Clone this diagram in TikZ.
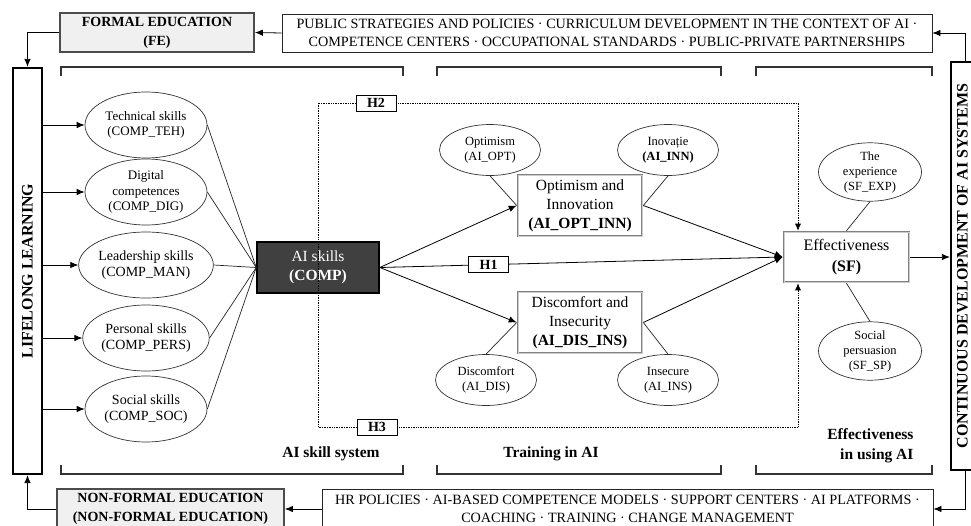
\documentclass[tikz,border=0pt]{standalone}
\usepackage{fontspec}
\setmainfont{Liberation Serif}
\usetikzlibrary{arrows.meta,shapes.geometric}
\begin{document}
\begin{tikzpicture}[x=1pt,y=-1pt,
  ell/.style={ellipse, draw=black!80, line width=0.7pt, inner sep=0pt, align=center},
  lell/.style={ell, minimum width=122pt, minimum height=66pt, font=\fontsize{13}{15.5}\selectfont},
  bigt/.style={font=\fontsize{14}{16}\selectfont},
  sell/.style={ell, minimum width=101pt, minimum height=51pt, font=\fontsize{12.5}{15.5}\selectfont},
  conn/.style={line width=0.7pt, draw=black!85},
  arr/.style={line width=0.8pt, -{Latex[length=8pt,width=6.5pt]}},
  dotline/.style={densely dotted, line width=0.7pt},
  dbox/.style={draw=black!50, line width=2.6pt, fill=white, align=center, inner sep=0pt,
    font=\fontsize{15.5}{19}\selectfont, postaction={draw=black!20, line width=0.7pt}},
  hbox/.style={draw, line width=0.8pt, fill=white, inner sep=0pt, minimum width=40pt, minimum height=16pt, font=\bfseries\fontsize{14}{16}\selectfont},
  edubox/.style={draw=black!70, line width=1.8pt, fill=black!6, align=center, inner sep=0pt, font=\bfseries\fontsize{14}{19}\selectfont},
  polbox/.style={draw=black!85, line width=0.9pt, fill=white, align=center, inner sep=0pt, font=\fontsize{14.2}{18}\selectfont},
  sidebox/.style={draw, line width=2.2pt, fill=white, inner sep=0pt},
  sidetext/.style={rotate=90, inner sep=0pt, font=\bfseries\fontsize{16}{18}\selectfont},
  brk/.style={line width=1.1pt, draw=black!80},
  lbl/.style={font=\bfseries\fontsize{15.5}{20}\selectfont, align=right}
]
\path[fill=white] (0,0) rectangle (971,525);
\useasboundingbox (0,0) rectangle (971,525);

% top and bottom boxes
\node[edubox, minimum width=194pt, minimum height=39pt] (fe) at (157,32.5) {FORMAL EDUCATION\\(FE)};
\node[polbox, minimum width=650pt, minimum height=38pt] (pt) at (607,33) {PUBLIC STRATEGIES AND POLICIES · CURRICULUM DEVELOPMENT IN THE CONTEXT OF AI ·\\COMPETENCE CENTERS · OCCUPATIONAL STANDARDS · PUBLIC-PRIVATE PARTNERSHIPS};
\node[edubox, minimum width=227pt, minimum height=40pt] (nf) at (170.5,509) {NON-FORMAL EDUCATION\\(NON-FORMAL EDUCATION)};
\node[polbox, minimum width=611pt, minimum height=40pt] (pb) at (627.5,509) {HR POLICIES · AI-BASED COMPETENCE MODELS · SUPPORT CENTERS · AI PLATFORMS ·\\COACHING · TRAINING · CHANGE MANAGEMENT};

% side boxes
\node[sidebox, minimum width=29pt, minimum height=406pt] (ll) at (27.5,271) {};
\node[sidetext] (llt) at (ll.center) {LIFELONG LEARNING};
\node[sidebox, minimum width=29pt, minimum height=408pt] (cd) at (965.5,266) {};
\node[sidetext] (cdt) at (962.5,266) {CONTINUOUS DEVELOPMENT OF AI SYSTEMS};

% brackets
\draw[brk] (61,76) -- (61,67) -- (403,67) -- (403,76);
\draw[brk] (437,76) -- (437,67) -- (721,67) -- (721,76);
\draw[brk] (756,76) -- (756,67) -- (932,67) -- (932,76);
\draw[brk] (61,465) -- (61,474) -- (403,474) -- (403,465);
\draw[brk] (437,465) -- (437,474) -- (721,474) -- (721,465);
\draw[brk] (756,465) -- (756,474) -- (932,474) -- (932,465);

\node[lbl] (l1) at (331,454) {AI skill system};
\node[lbl] (l2) at (551,454) {Training in AI};
\node[lbl, anchor=east] (l3) at (917,446) {Effectiveness\\in using AI};

% left ellipses
\node[lell] (teh) at (146,125) {Technical skills\\(COMP\_TEH)};
\node[lell] (dig) at (146,192) {Digital\\competences\\(COMP\_DIG)};
\node[lell, bigt] (man) at (146,265) {Leadership skills\\(COMP\_MAN)};
\node[lell, bigt] (pers) at (146,338) {Personal skills\\(COMP\_PERS)};
\node[lell, bigt] (soc) at (146,409) {Social skills\\(COMP\_SOC)};

% central boxes
\node[draw=black, line width=1.5pt, fill=black!75, text=white, align=center, inner sep=0pt, minimum width=122pt, minimum height=51pt, font=\fontsize{15.5}{19}\selectfont] (comp) at (318,267.5) {AI skills\\\textbf{(COMP)}};
\node[dbox, minimum width=124pt, minimum height=61pt] (oi) at (580,205.5) {Optimism and\\Innovation\\\textbf{(AI\_OPT\_INN)}};
\node[dbox, minimum width=124pt, minimum height=61pt] (di) at (580,322.5) {Discomfort and\\Insecurity\\\textbf{(AI\_DIS\_INS)}};
\node[dbox, minimum width=125pt, minimum height=50pt, font=\fontsize{16}{21}\selectfont] (sf) at (846.5,257) {Effectiveness\\\textbf{(SF)}};

% small ellipses
\node[sell] (opt) at (490,150) {Optimism\\(AI\_OPT)};
\node[sell] (inn) at (668,150) {Inovație\\\textbf{(AI\_INN)}};
\node[sell] (dis) at (486,380) {Discomfort\\(AI\_DIS)};
\node[sell] (ins) at (668,380) {Insecure\\(AI\_INS)};
\node[sell, minimum width=103pt, font=\fontsize{12.5}{15}\selectfont] (exp) at (870,172) {The\\experience\\(SF\_EXP)};
\node[sell, minimum width=103pt, minimum height=53pt, font=\fontsize{12.5}{15}\selectfont] (sp) at (870,351) {Social\\persuasion\\(SF\_SP)};

% dotted frame with hypothesis labels
\node[hbox] (h2) at (376,103) {H2};
\node[hbox] (h3) at (377,427) {H3};
\draw[dotline] (h2.west) -- (318,103) -- (318,427) -- (h3.west);
\draw[dotline, -{Latex[length=7pt,width=6pt]}] (h2.east) -| ([xshift=-48.5pt]sf.north);
\draw[dotline, -{Latex[length=7pt,width=6pt]}] (h3.east) -| ([xshift=-48.5pt]sf.south);

% outer flow arrows
\draw[arr] (pt.west) -- (fe.east);
\draw[arr] (fe.west) -| (ll.north);
\draw[arr] (cd.north) |- (pt.east);
\draw[arr] (cd.south) |- (pb.east);
\draw[arr] (pb.west) -- (nf.east);
\draw[arr] (nf.west) -| (ll.south);
\draw[arr] (sf.east) -- (sf.east -| cd.west);

% lifelong learning to skills
\foreach \n in {teh,dig,man,pers,soc}{
  \draw[arr] (ll.east |- \n.west) -- (\n.west);
  \draw[conn] (\n.east) -- (comp.west);
}

% structural paths
\draw[arr] (comp.east) -- (oi.west);
\draw[arr] (comp.east) -- (di.west);
\draw[arr] (comp.east) -- (sf.west) node[hbox, pos=0.27] (h1) {H1};
\draw[arr] (oi.east) -- (sf.west);
\draw[arr] (di.east) -- (sf.west);

% indicator lines
\draw[conn] (opt.south) -- (oi.west);
\draw[conn] (inn.south) -- (oi.east);
\draw[conn] (dis.north) -- (di.west);
\draw[conn] (ins.north) -- (di.east);
\draw[conn] (exp.south) -- (sf.north);
\draw[conn] (sp.north) -- (sf.south);
\end{tikzpicture}
\end{document}
